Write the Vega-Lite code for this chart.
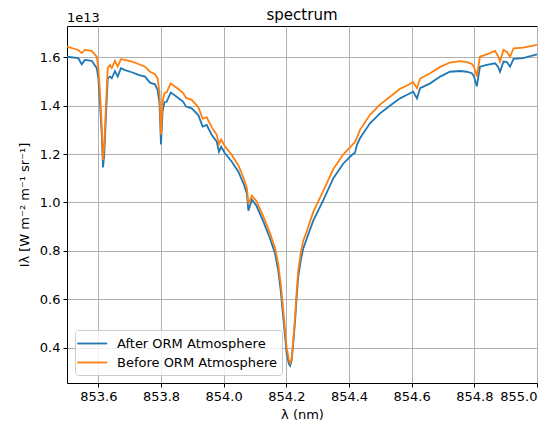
{
  "$schema": "https://vega.github.io/schema/vega-lite/v6.json",
  "width": 470,
  "height": 357,
  "autosize": {"type": "none"},
  "padding": {"left": 67, "top": 26, "right": 18, "bottom": 46},
  "title": {"text": "spectrum", "fontSize": 15, "font": "DejaVu Sans", "fontWeight": "normal", "color": "#000000", "offset": -11},
  "config": {
    "font": "DejaVu Sans",
    "view": {"stroke": "#000000", "strokeWidth": 1},
    "axis": {
      "domain": false,
      "gridColor": "#b0b0b0",
      "gridWidth": 1,
      "tickColor": "#000000",
      "tickSize": 4,
      "labelFontSize": 13,
      "labelColor": "#000000",
      "titleFontSize": 13,
      "titleColor": "#000000",
      "titleFontWeight": "normal",
      "labelPadding": 3
    },
    "legend": {
      "orient": "bottom-left",
      "offset": 8,
      "padding": 5,
      "cornerRadius": 3,
      "fillColor": "rgba(255,255,255,0.8)",
      "strokeColor": "#cccccc",
      "labelFontSize": 13,
      "labelColor": "#000000",
      "symbolType": "M-1.5,0H2.5",
      "symbolSize": 225,
      "symbolStrokeWidth": 1.8,
      "rowPadding": 3,
      "labelOffset": 20
    }
  },
  "data": {"values": [
    {"w": 853.500, "I": 1.602, "s": "After ORM Atmosphere"},
    {"w": 853.536, "I": 1.596, "s": "After ORM Atmosphere"},
    {"w": 853.547, "I": 1.571, "s": "After ORM Atmosphere"},
    {"w": 853.557, "I": 1.589, "s": "After ORM Atmosphere"},
    {"w": 853.579, "I": 1.585, "s": "After ORM Atmosphere"},
    {"w": 853.595, "I": 1.555, "s": "After ORM Atmosphere"},
    {"w": 853.600, "I": 1.513, "s": "After ORM Atmosphere"},
    {"w": 853.605, "I": 1.416, "s": "After ORM Atmosphere"},
    {"w": 853.611, "I": 1.279, "s": "After ORM Atmosphere"},
    {"w": 853.615, "I": 1.145, "s": "After ORM Atmosphere"},
    {"w": 853.619, "I": 1.200, "s": "After ORM Atmosphere"},
    {"w": 853.624, "I": 1.349, "s": "After ORM Atmosphere"},
    {"w": 853.630, "I": 1.513, "s": "After ORM Atmosphere"},
    {"w": 853.637, "I": 1.520, "s": "After ORM Atmosphere"},
    {"w": 853.643, "I": 1.513, "s": "After ORM Atmosphere"},
    {"w": 853.653, "I": 1.543, "s": "After ORM Atmosphere"},
    {"w": 853.662, "I": 1.520, "s": "After ORM Atmosphere"},
    {"w": 853.672, "I": 1.555, "s": "After ORM Atmosphere"},
    {"w": 853.685, "I": 1.547, "s": "After ORM Atmosphere"},
    {"w": 853.707, "I": 1.538, "s": "After ORM Atmosphere"},
    {"w": 853.728, "I": 1.527, "s": "After ORM Atmosphere"},
    {"w": 853.749, "I": 1.520, "s": "After ORM Atmosphere"},
    {"w": 853.765, "I": 1.495, "s": "After ORM Atmosphere"},
    {"w": 853.781, "I": 1.488, "s": "After ORM Atmosphere"},
    {"w": 853.789, "I": 1.465, "s": "After ORM Atmosphere"},
    {"w": 853.795, "I": 1.413, "s": "After ORM Atmosphere"},
    {"w": 853.800, "I": 1.240, "s": "After ORM Atmosphere"},
    {"w": 853.805, "I": 1.375, "s": "After ORM Atmosphere"},
    {"w": 853.811, "I": 1.414, "s": "After ORM Atmosphere"},
    {"w": 853.818, "I": 1.416, "s": "After ORM Atmosphere"},
    {"w": 853.831, "I": 1.454, "s": "After ORM Atmosphere"},
    {"w": 853.850, "I": 1.437, "s": "After ORM Atmosphere"},
    {"w": 853.871, "I": 1.416, "s": "After ORM Atmosphere"},
    {"w": 853.880, "I": 1.396, "s": "After ORM Atmosphere"},
    {"w": 853.898, "I": 1.389, "s": "After ORM Atmosphere"},
    {"w": 853.919, "I": 1.361, "s": "After ORM Atmosphere"},
    {"w": 853.933, "I": 1.313, "s": "After ORM Atmosphere"},
    {"w": 853.946, "I": 1.320, "s": "After ORM Atmosphere"},
    {"w": 853.962, "I": 1.279, "s": "After ORM Atmosphere"},
    {"w": 853.978, "I": 1.251, "s": "After ORM Atmosphere"},
    {"w": 853.985, "I": 1.209, "s": "After ORM Atmosphere"},
    {"w": 853.992, "I": 1.230, "s": "After ORM Atmosphere"},
    {"w": 854.004, "I": 1.203, "s": "After ORM Atmosphere"},
    {"w": 854.026, "I": 1.168, "s": "After ORM Atmosphere"},
    {"w": 854.047, "I": 1.127, "s": "After ORM Atmosphere"},
    {"w": 854.063, "I": 1.079, "s": "After ORM Atmosphere"},
    {"w": 854.074, "I": 1.037, "s": "After ORM Atmosphere"},
    {"w": 854.079, "I": 0.966, "s": "After ORM Atmosphere"},
    {"w": 854.090, "I": 1.012, "s": "After ORM Atmosphere"},
    {"w": 854.105, "I": 0.985, "s": "After ORM Atmosphere"},
    {"w": 854.127, "I": 0.920, "s": "After ORM Atmosphere"},
    {"w": 854.148, "I": 0.851, "s": "After ORM Atmosphere"},
    {"w": 854.164, "I": 0.789, "s": "After ORM Atmosphere"},
    {"w": 854.174, "I": 0.720, "s": "After ORM Atmosphere"},
    {"w": 854.182, "I": 0.637, "s": "After ORM Atmosphere"},
    {"w": 854.188, "I": 0.554, "s": "After ORM Atmosphere"},
    {"w": 854.196, "I": 0.444, "s": "After ORM Atmosphere"},
    {"w": 854.201, "I": 0.375, "s": "After ORM Atmosphere"},
    {"w": 854.208, "I": 0.334, "s": "After ORM Atmosphere"},
    {"w": 854.212, "I": 0.325, "s": "After ORM Atmosphere"},
    {"w": 854.217, "I": 0.348, "s": "After ORM Atmosphere"},
    {"w": 854.222, "I": 0.417, "s": "After ORM Atmosphere"},
    {"w": 854.228, "I": 0.513, "s": "After ORM Atmosphere"},
    {"w": 854.233, "I": 0.610, "s": "After ORM Atmosphere"},
    {"w": 854.238, "I": 0.692, "s": "After ORM Atmosphere"},
    {"w": 854.246, "I": 0.761, "s": "After ORM Atmosphere"},
    {"w": 854.254, "I": 0.810, "s": "After ORM Atmosphere"},
    {"w": 854.265, "I": 0.850, "s": "After ORM Atmosphere"},
    {"w": 854.286, "I": 0.925, "s": "After ORM Atmosphere"},
    {"w": 854.318, "I": 1.010, "s": "After ORM Atmosphere"},
    {"w": 854.350, "I": 1.100, "s": "After ORM Atmosphere"},
    {"w": 854.382, "I": 1.161, "s": "After ORM Atmosphere"},
    {"w": 854.409, "I": 1.196, "s": "After ORM Atmosphere"},
    {"w": 854.419, "I": 1.205, "s": "After ORM Atmosphere"},
    {"w": 854.426, "I": 1.240, "s": "After ORM Atmosphere"},
    {"w": 854.435, "I": 1.265, "s": "After ORM Atmosphere"},
    {"w": 854.467, "I": 1.327, "s": "After ORM Atmosphere"},
    {"w": 854.499, "I": 1.368, "s": "After ORM Atmosphere"},
    {"w": 854.541, "I": 1.410, "s": "After ORM Atmosphere"},
    {"w": 854.563, "I": 1.430, "s": "After ORM Atmosphere"},
    {"w": 854.584, "I": 1.444, "s": "After ORM Atmosphere"},
    {"w": 854.605, "I": 1.458, "s": "After ORM Atmosphere"},
    {"w": 854.617, "I": 1.430, "s": "After ORM Atmosphere"},
    {"w": 854.627, "I": 1.472, "s": "After ORM Atmosphere"},
    {"w": 854.659, "I": 1.492, "s": "After ORM Atmosphere"},
    {"w": 854.691, "I": 1.520, "s": "After ORM Atmosphere"},
    {"w": 854.722, "I": 1.540, "s": "After ORM Atmosphere"},
    {"w": 854.754, "I": 1.543, "s": "After ORM Atmosphere"},
    {"w": 854.776, "I": 1.540, "s": "After ORM Atmosphere"},
    {"w": 854.792, "I": 1.534, "s": "After ORM Atmosphere"},
    {"w": 854.799, "I": 1.520, "s": "After ORM Atmosphere"},
    {"w": 854.808, "I": 1.480, "s": "After ORM Atmosphere"},
    {"w": 854.818, "I": 1.561, "s": "After ORM Atmosphere"},
    {"w": 854.840, "I": 1.568, "s": "After ORM Atmosphere"},
    {"w": 854.866, "I": 1.575, "s": "After ORM Atmosphere"},
    {"w": 854.876, "I": 1.560, "s": "After ORM Atmosphere"},
    {"w": 854.882, "I": 1.540, "s": "After ORM Atmosphere"},
    {"w": 854.893, "I": 1.582, "s": "After ORM Atmosphere"},
    {"w": 854.904, "I": 1.580, "s": "After ORM Atmosphere"},
    {"w": 854.914, "I": 1.561, "s": "After ORM Atmosphere"},
    {"w": 854.925, "I": 1.593, "s": "After ORM Atmosphere"},
    {"w": 854.956, "I": 1.596, "s": "After ORM Atmosphere"},
    {"w": 855.000, "I": 1.612, "s": "After ORM Atmosphere"},
    {"w": 853.500, "I": 1.644, "s": "Before ORM Atmosphere"},
    {"w": 853.536, "I": 1.630, "s": "Before ORM Atmosphere"},
    {"w": 853.547, "I": 1.617, "s": "Before ORM Atmosphere"},
    {"w": 853.557, "I": 1.630, "s": "Before ORM Atmosphere"},
    {"w": 853.579, "I": 1.626, "s": "Before ORM Atmosphere"},
    {"w": 853.595, "I": 1.602, "s": "Before ORM Atmosphere"},
    {"w": 853.600, "I": 1.555, "s": "Before ORM Atmosphere"},
    {"w": 853.605, "I": 1.460, "s": "Before ORM Atmosphere"},
    {"w": 853.611, "I": 1.310, "s": "Before ORM Atmosphere"},
    {"w": 853.615, "I": 1.175, "s": "Before ORM Atmosphere"},
    {"w": 853.619, "I": 1.240, "s": "Before ORM Atmosphere"},
    {"w": 853.624, "I": 1.390, "s": "Before ORM Atmosphere"},
    {"w": 853.630, "I": 1.555, "s": "Before ORM Atmosphere"},
    {"w": 853.637, "I": 1.568, "s": "Before ORM Atmosphere"},
    {"w": 853.643, "I": 1.555, "s": "Before ORM Atmosphere"},
    {"w": 853.653, "I": 1.585, "s": "Before ORM Atmosphere"},
    {"w": 853.662, "I": 1.561, "s": "Before ORM Atmosphere"},
    {"w": 853.672, "I": 1.592, "s": "Before ORM Atmosphere"},
    {"w": 853.685, "I": 1.589, "s": "Before ORM Atmosphere"},
    {"w": 853.707, "I": 1.582, "s": "Before ORM Atmosphere"},
    {"w": 853.728, "I": 1.572, "s": "Before ORM Atmosphere"},
    {"w": 853.749, "I": 1.561, "s": "Before ORM Atmosphere"},
    {"w": 853.765, "I": 1.540, "s": "Before ORM Atmosphere"},
    {"w": 853.781, "I": 1.530, "s": "Before ORM Atmosphere"},
    {"w": 853.789, "I": 1.513, "s": "Before ORM Atmosphere"},
    {"w": 853.795, "I": 1.458, "s": "Before ORM Atmosphere"},
    {"w": 853.800, "I": 1.280, "s": "Before ORM Atmosphere"},
    {"w": 853.805, "I": 1.416, "s": "Before ORM Atmosphere"},
    {"w": 853.811, "I": 1.451, "s": "Before ORM Atmosphere"},
    {"w": 853.818, "I": 1.455, "s": "Before ORM Atmosphere"},
    {"w": 853.831, "I": 1.492, "s": "Before ORM Atmosphere"},
    {"w": 853.850, "I": 1.474, "s": "Before ORM Atmosphere"},
    {"w": 853.871, "I": 1.452, "s": "Before ORM Atmosphere"},
    {"w": 853.880, "I": 1.432, "s": "Before ORM Atmosphere"},
    {"w": 853.898, "I": 1.424, "s": "Before ORM Atmosphere"},
    {"w": 853.919, "I": 1.394, "s": "Before ORM Atmosphere"},
    {"w": 853.933, "I": 1.346, "s": "Before ORM Atmosphere"},
    {"w": 853.946, "I": 1.352, "s": "Before ORM Atmosphere"},
    {"w": 853.962, "I": 1.310, "s": "Before ORM Atmosphere"},
    {"w": 853.978, "I": 1.280, "s": "Before ORM Atmosphere"},
    {"w": 853.985, "I": 1.240, "s": "Before ORM Atmosphere"},
    {"w": 853.992, "I": 1.260, "s": "Before ORM Atmosphere"},
    {"w": 854.004, "I": 1.232, "s": "Before ORM Atmosphere"},
    {"w": 854.026, "I": 1.196, "s": "Before ORM Atmosphere"},
    {"w": 854.047, "I": 1.153, "s": "Before ORM Atmosphere"},
    {"w": 854.063, "I": 1.103, "s": "Before ORM Atmosphere"},
    {"w": 854.074, "I": 1.060, "s": "Before ORM Atmosphere"},
    {"w": 854.079, "I": 0.994, "s": "Before ORM Atmosphere"},
    {"w": 854.090, "I": 1.028, "s": "Before ORM Atmosphere"},
    {"w": 854.105, "I": 1.005, "s": "Before ORM Atmosphere"},
    {"w": 854.127, "I": 0.940, "s": "Before ORM Atmosphere"},
    {"w": 854.148, "I": 0.872, "s": "Before ORM Atmosphere"},
    {"w": 854.164, "I": 0.812, "s": "Before ORM Atmosphere"},
    {"w": 854.174, "I": 0.745, "s": "Before ORM Atmosphere"},
    {"w": 854.182, "I": 0.665, "s": "Before ORM Atmosphere"},
    {"w": 854.188, "I": 0.584, "s": "Before ORM Atmosphere"},
    {"w": 854.196, "I": 0.474, "s": "Before ORM Atmosphere"},
    {"w": 854.201, "I": 0.400, "s": "Before ORM Atmosphere"},
    {"w": 854.208, "I": 0.350, "s": "Before ORM Atmosphere"},
    {"w": 854.212, "I": 0.336, "s": "Before ORM Atmosphere"},
    {"w": 854.217, "I": 0.355, "s": "Before ORM Atmosphere"},
    {"w": 854.222, "I": 0.428, "s": "Before ORM Atmosphere"},
    {"w": 854.228, "I": 0.530, "s": "Before ORM Atmosphere"},
    {"w": 854.233, "I": 0.632, "s": "Before ORM Atmosphere"},
    {"w": 854.238, "I": 0.718, "s": "Before ORM Atmosphere"},
    {"w": 854.246, "I": 0.790, "s": "Before ORM Atmosphere"},
    {"w": 854.254, "I": 0.842, "s": "Before ORM Atmosphere"},
    {"w": 854.265, "I": 0.880, "s": "Before ORM Atmosphere"},
    {"w": 854.286, "I": 0.961, "s": "Before ORM Atmosphere"},
    {"w": 854.318, "I": 1.048, "s": "Before ORM Atmosphere"},
    {"w": 854.350, "I": 1.138, "s": "Before ORM Atmosphere"},
    {"w": 854.382, "I": 1.199, "s": "Before ORM Atmosphere"},
    {"w": 854.409, "I": 1.236, "s": "Before ORM Atmosphere"},
    {"w": 854.419, "I": 1.250, "s": "Before ORM Atmosphere"},
    {"w": 854.426, "I": 1.270, "s": "Before ORM Atmosphere"},
    {"w": 854.435, "I": 1.300, "s": "Before ORM Atmosphere"},
    {"w": 854.467, "I": 1.362, "s": "Before ORM Atmosphere"},
    {"w": 854.499, "I": 1.404, "s": "Before ORM Atmosphere"},
    {"w": 854.541, "I": 1.447, "s": "Before ORM Atmosphere"},
    {"w": 854.563, "I": 1.470, "s": "Before ORM Atmosphere"},
    {"w": 854.584, "I": 1.482, "s": "Before ORM Atmosphere"},
    {"w": 854.605, "I": 1.497, "s": "Before ORM Atmosphere"},
    {"w": 854.617, "I": 1.472, "s": "Before ORM Atmosphere"},
    {"w": 854.627, "I": 1.512, "s": "Before ORM Atmosphere"},
    {"w": 854.659, "I": 1.534, "s": "Before ORM Atmosphere"},
    {"w": 854.691, "I": 1.560, "s": "Before ORM Atmosphere"},
    {"w": 854.722, "I": 1.578, "s": "Before ORM Atmosphere"},
    {"w": 854.754, "I": 1.584, "s": "Before ORM Atmosphere"},
    {"w": 854.776, "I": 1.580, "s": "Before ORM Atmosphere"},
    {"w": 854.792, "I": 1.572, "s": "Before ORM Atmosphere"},
    {"w": 854.799, "I": 1.560, "s": "Before ORM Atmosphere"},
    {"w": 854.808, "I": 1.520, "s": "Before ORM Atmosphere"},
    {"w": 854.818, "I": 1.602, "s": "Before ORM Atmosphere"},
    {"w": 854.840, "I": 1.612, "s": "Before ORM Atmosphere"},
    {"w": 854.866, "I": 1.626, "s": "Before ORM Atmosphere"},
    {"w": 854.876, "I": 1.605, "s": "Before ORM Atmosphere"},
    {"w": 854.882, "I": 1.582, "s": "Before ORM Atmosphere"},
    {"w": 854.893, "I": 1.630, "s": "Before ORM Atmosphere"},
    {"w": 854.904, "I": 1.622, "s": "Before ORM Atmosphere"},
    {"w": 854.914, "I": 1.602, "s": "Before ORM Atmosphere"},
    {"w": 854.925, "I": 1.637, "s": "Before ORM Atmosphere"},
    {"w": 854.956, "I": 1.640, "s": "Before ORM Atmosphere"},
    {"w": 855.000, "I": 1.651, "s": "Before ORM Atmosphere"}
  ]},
  "layer": [
    {
      "mark": {"type": "line", "strokeWidth": 1.8, "clip": true},
      "encoding": {
        "x": {"field": "w", "type": "quantitative",
              "scale": {"domain": [853.5, 855.0], "nice": false, "zero": false},
              "axis": {"values": [853.6, 853.8, 854.0, 854.2, 854.4, 854.6, 854.8, 855.0], "format": ".1f", "title": "λ (nm)", "titlePadding": 5, "grid": true}},
        "y": {"field": "I", "type": "quantitative",
              "scale": {"domain": [0.254, 1.729], "nice": false, "zero": false},
              "axis": {"values": [0.4, 0.6, 0.8, 1.0, 1.2, 1.4, 1.6], "format": ".1f", "title": "Iλ [W m⁻² m⁻¹ sr⁻¹]", "titlePadding": 8, "grid": true}},
        "color": {"field": "s", "type": "nominal",
                  "scale": {"domain": ["After ORM Atmosphere", "Before ORM Atmosphere"], "range": ["#1f77b4", "#ff7f0e"]},
                  "legend": {"title": null}},
        "order": {"field": "w", "type": "quantitative"}
      }
    },
    {
      "data": {"values": [{"label": "1e13"}]},
      "mark": {"type": "text", "align": "left", "baseline": "alphabetic", "dy": -4, "fontSize": 13, "color": "#000000"},
      "encoding": {
        "x": {"datum": 853.5},
        "y": {"datum": 1.729},
        "text": {"field": "label"}
      }
    }
  ]
}
